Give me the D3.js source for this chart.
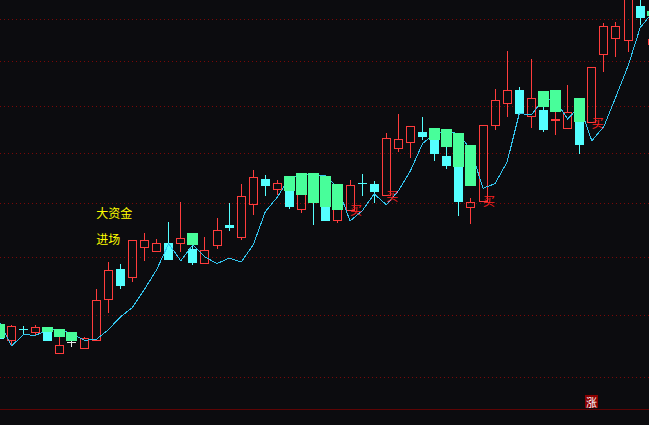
<!DOCTYPE html>
<html><head><meta charset="utf-8">
<script src="https://cdn.jsdelivr.net/npm/d3@7/dist/d3.min.js"></script>
<style>html,body{margin:0;padding:0;background:#0c0c0f;overflow:hidden}svg{display:block}</style>
</head><body><svg id="chart" width="649" height="425"></svg>
<script>
// ---- data ----
const indices = d3.range(-1, 54);
const opens  = [12.82,12.58,12.77,12.72,12.77,12.38,12.55,12.45,12.59,13.27,13.79,13.65,14.18,14.11,14.26,14.25,14.15,13.89,14.21,14.59,14.36,14.98,15.48,15.27,15.46,14.88,15.50,15.46,14.67,14.87,15.40,15.38,15.15,16.11,16.23,16.44,16.46,15.94,16.38,14.92,15.05,16.58,17.05,17.35,16.77,16.91,16.70,16.52,17.13,16.64,18.16,18.54,18.49,19.33,18.41];
const highs  = [12.85,12.83,12.82,12.83,12.79,12.63,12.58,12.64,13.44,13.91,13.88,14.31,14.43,14.33,14.65,15.02,14.32,14.37,14.71,15.00,15.38,15.66,15.56,15.46,15.50,15.26,15.52,15.48,15.16,15.46,15.58,15.44,16.42,16.82,16.56,16.76,16.47,16.27,16.40,15.10,16.58,17.37,18.24,17.41,18.05,17.13,17.13,17.46,17.15,17.86,18.91,18.93,19.72,19.60,18.53];
const lows   = [12.59,12.50,12.70,12.67,12.58,12.37,12.48,12.45,12.59,13.05,13.46,13.58,13.95,14.11,13.96,14.10,13.87,13.89,14.17,14.49,14.32,14.80,15.15,15.18,14.90,14.84,14.60,14.67,14.65,14.87,15.15,15.03,15.15,16.03,15.92,16.28,15.85,15.69,14.77,14.62,15.05,16.49,16.77,16.85,16.53,16.46,16.39,16.52,16.00,16.64,17.78,18.13,18.24,18.89,18.30];
const closes = [12.61,12.82,12.76,12.79,12.58,12.51,12.55,12.62,13.25,13.77,13.51,14.31,14.30,14.26,13.96,14.35,13.91,14.13,14.50,14.54,15.14,15.51,15.35,15.40,14.95,15.26,15.04,14.67,15.16,15.36,15.39,15.23,16.31,16.29,16.56,16.36,16.00,15.75,15.05,15.02,16.58,17.13,17.35,16.85,17.17,16.49,16.72,16.86,16.19,17.86,18.83,18.83,19.72,19.06,18.53];
const lineValues = [12.88,12.49,12.67,12.66,12.75,12.75,12.69,12.58,12.59,12.75,12.96,13.12,13.43,13.77,14.24,13.93,14.22,14.00,13.88,13.98,13.91,14.22,14.84,15.12,15.50,15.56,15.56,15.54,15.30,14.66,14.85,15.18,14.97,15.24,15.64,16.19,16.41,16.46,16.39,16.06,15.29,15.38,15.82,16.83,16.80,17.15,17.11,16.71,16.99,16.25,16.55,17.20,17.89,18.79,19.15];
const greenIdx    = [-1,3,4,5,15,23,24,25,26,27,35,36,37,38,44,45,47,53];
const greenTop    = [12.85,12.79,12.77,12.72,14.43,15.54,15.60,15.60,15.54,15.38,16.51,16.49,16.42,16.17,17.33,17.35,17.17,19.20];
const greenBottom = [12.61,12.71,12.63,12.56,14.22,15.24,15.15,15.00,14.93,14.86,16.27,16.13,15.71,15.33,16.98,16.87,16.64,19.08];
const buyIdx = [28,31,39,48];
const gridPrices = [12,13,14,15,16,17,18,19];
const noteTexts = ["大资金","进场"];
const notePrices = [14.72,14.24];
const noteIndex = 7;
const riseIndex = 48;
const riseText = "涨";

// ---- layout ----
const W = 649, H = 425;
const svg = d3.select("#chart").attr("shape-rendering","crispEdges");
svg.append("rect").attr("width",W).attr("height",H).attr("fill","#0c0c0f");

const x = d3.scaleLinear().domain([-1,53]).range([-0.59,652.27]);
const y = d3.scaleLog().domain([12,19]).range([377,19]);
const px = i => Math.floor(x(i));
const py = v => Math.round(y(v));

const RED="#ff3c3c", CYAN="#54ffff", GREEN="#48fe9a", WHITE="#e8e8e8", LINE="#33c6f0";

// grid lines
svg.append("g").selectAll("line").data(gridPrices).join("line")
  .attr("x1",0).attr("x2",W)
  .attr("y1",d=>py(d)+0.5).attr("y2",d=>py(d)+0.5)
  .attr("stroke","#7a0808").attr("stroke-width",1)
  .attr("stroke-dasharray","1,3");

// bottom axis line
svg.append("rect").attr("x",0).attr("width",W).attr("y",409).attr("height",1).attr("fill","#5e0404");

// candles (drawn with 1px filled rects so colours stay exact)
const candles = indices.map((i,k)=>({i,o:opens[k],h:highs[k],l:lows[k],c:closes[k]}));
const cg = svg.append("g");
const box = (x0,y0,w,h,col)=>{ if (w>0 && h>0) cg.append("rect").attr("x",x0).attr("y",y0).attr("width",w).attr("height",h).attr("fill",col); };
candles.forEach(d=>{
  const cx = px(d.i);
  const up = d.c > d.o, flat = d.c === d.o;
  const col = up ? RED : (flat ? WHITE : CYAN);
  const top = py(Math.max(d.o,d.c)), bot = py(Math.min(d.o,d.c));
  const hi = py(d.h), lo = py(d.l);
  box(cx, hi, 1, top-hi, col);          // upper wick
  box(cx, bot+1, 1, lo-bot, col);       // lower wick
  if (up) {
    const h = Math.max(1, bot-top);
    box(cx-4, top, 9, 1, col);
    box(cx-4, top+h, 9, 1, col);
    box(cx-4, top, 1, h+1, col);
    box(cx+4, top, 1, h+1, col);
  } else {
    box(cx-4, top, 9, Math.max(1, bot-top+1), col);
  }
});

// line
svg.append("path").datum(indices.map((i,k)=>[i,lineValues[k]]))
  .attr("d",d3.line().x(d=>x(d[0])).y(d=>y(d[1])))
  .attr("fill","none").attr("stroke",LINE).attr("stroke-width",1);

// green bars
svg.append("g").selectAll("rect")
  .data(greenIdx.map((i,k)=>({i,t:greenTop[k],b:greenBottom[k]}))).join("rect")
  .attr("x",d=>px(d.i)-5).attr("width",11)
  .attr("y",d=>py(d.t)).attr("height",d=>py(d.b)-py(d.t))
  .attr("fill",GREEN);

// buy markers
svg.append("g").selectAll("text").data(buyIdx).join("text")
  .attr("x",i=>x(i)).attr("y",i=>y(lows[indices.indexOf(i)]))
  .attr("dominant-baseline","central")
  .attr("font-family","'Noto Sans CJK SC',sans-serif").attr("font-size",12)
  .attr("fill","#ff2020").text("买");

// notes
svg.append("g").selectAll("text").data(noteTexts).join("text")
  .attr("x",x(noteIndex)).attr("y",(d,k)=>y(notePrices[k]))
  .attr("font-family","'Noto Sans CJK SC',sans-serif").attr("font-size",12)
  .attr("fill","#ffff00").text(d=>d);

// rise badge
const rx = px(riseIndex);
svg.append("rect").attr("x",rx-6).attr("y",395).attr("width",13).attr("height",13).attr("fill","#8a0000");
svg.append("text").attr("x",rx+0.5).attr("y",401.5).attr("text-anchor","middle").attr("dominant-baseline","central")
  .attr("font-family","'Noto Sans CJK SC',sans-serif").attr("font-size",11).attr("fill","#ffffff").text(riseText);
</script></body></html>
